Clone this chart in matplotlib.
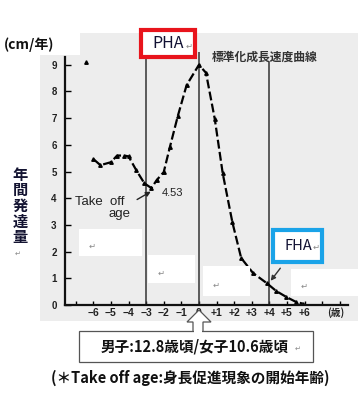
import matplotlib
matplotlib.use("Agg")
import matplotlib.pyplot as plt
from matplotlib.patches import Rectangle, Polygon, FancyArrowPatch

plt.rcParams['font.family'] = ['Noto Sans CJK JP', 'DejaVu Sans']

W, H = 361, 394

# growth velocity curve (years from PHA, cm/year)
ages = [-6.0, -5.6, -5.0, -4.65, -4.26, -4.0, -3.56, -3.1, -2.7, -2.4, -2.0, -1.65,
        -1.2, -0.7, 0.0, 0.4, 0.9, 1.35, 1.9, 2.4, 3.07, 3.85, 4.4, 4.97, 5.5, 5.9]
velocity = [5.47, 5.24, 5.35, 5.6, 5.6, 5.57, 5.05, 4.56, 4.38, 4.68, 4.98, 5.92,
            7.08, 8.24, 9.0, 8.7, 6.97, 4.94, 3.1, 1.76, 1.2, 0.82, 0.52, 0.3, 0.12, 0.05]
stray_x = [-6.4]
stray_y = [9.1]

# vertical reference lines: take off, PHA, FHA
ref_x = [-3, 0, 4]
ref_top = [9.25, 9.48, 9.1]

xticks = list(range(-7, 9))
xlabels = ['−6', '−5', '−4', '−3', '−2', '−1', '0', '+1', '+2', '+3', '+4', '+5', '+6']
yticks = list(range(0, 10))


def fx(px):
    return px / W


def fy(py):
    return 1 - py / H


fig = plt.figure(figsize=(W / 100, H / 100), dpi=100)
fig.patch.set_facecolor('white')

# scanned gray background
fig.patches.append(Rectangle((fx(40), fy(321)), fx(358) - fx(40), fy(33) - fy(321),
                             transform=fig.transFigure, facecolor='#ededed',
                             edgecolor='none', zorder=-2))
fig.patches.append(Rectangle((0, fy(55)), fx(80), fy(33) - fy(55),
                             transform=fig.transFigure, facecolor='white',
                             edgecolor='none', zorder=-1))

ax = fig.add_axes([fx(65), fy(305), fx(348) - fx(65), fy(52) - fy(305)])
ax.patch.set_alpha(0)
ax.set_xlim(-7.61, 8.47)
ax.set_ylim(0, 9.48)
for s in ['top', 'right']:
    ax.spines[s].set_visible(False)
ax.spines['left'].set_bounds(0, 9.3)
ax.spines['left'].set_linewidth(1.6)
ax.spines['bottom'].set_linewidth(1.6)
ax.spines['left'].set_color('#111111')
ax.spines['bottom'].set_color('#111111')

ax.set_yticks(yticks)
ax.set_yticklabels([str(v) for v in yticks], fontsize=7, fontweight='bold',
                   family=['Liberation Sans'], color='#222222')
ax.tick_params(axis='y', direction='in', length=4, width=1, pad=6)
ax.set_xticks(xticks)
ax.set_xticklabels([''] + xlabels + ['', ''], fontsize=7.5, fontweight='bold',
                   family=['Liberation Sans'], color='#222222')
ax.tick_params(axis='x', direction='in', length=3, width=1, pad=2)

for x0, top in zip(ref_x, ref_top):
    ax.plot([x0, x0], [0, top], color='#333333', lw=1.1)

ax.plot(ages, velocity, color='black', lw=1.6, ls=(0, (4, 1.5)),
        marker='^', ms=2.5, mfc='black', mec='black')
ax.plot(stray_x, stray_y, ls='none', marker='^', ms=2.5, color='black')

ax.text(0.75, 9.3, '標準化成長速度曲線', fontsize=8.5, fontweight='bold',
        color='#333333', va='center', ha='left')

ax.text(-7.05, 3.85, 'Take  off', fontsize=9.5, family=['Liberation Sans'],
        color='#222222', va='center', ha='left')
ax.text(-4.5, 3.4, 'age', fontsize=9.5, family=['Liberation Sans'],
        color='#222222', va='center', ha='center')
ax.annotate('', xy=(-2.6, 4.3), xytext=(-3.65, 3.9),
            arrowprops=dict(arrowstyle='-|>', color='#222222', lw=1,
                            mutation_scale=7))
ax.text(-2.1, 4.2, '4.53', fontsize=8, family=['Liberation Sans'],
        color='#222222', va='center', ha='left')
ax.text(7.3, -0.3, '(歳)', fontsize=7, fontweight='bold', color='#222222',
        va='center', ha='left')

# white patches left on the scan
for x0, y0, x1, y1 in [(79, 229, 142, 256), (148, 255, 195, 283),
                       (203, 266, 250, 296), (291, 269, 358, 296)]:
    fig.patches.append(Rectangle((fx(x0), fy(y1)), fx(x1) - fx(x0), fy(y0) - fy(y1),
                                 transform=fig.transFigure, facecolor='white',
                                 edgecolor='none', zorder=1))
    fig.text(fx(x0 + 10), fy((y0 + y1) / 2 + 4), '↵', fontsize=6,
             color='#888888', ha='left', va='center', zorder=2,
             family=['DejaVu Sans'])

# PHA box
fig.patches.append(Rectangle((fx(141), fy(57)), fx(195) - fx(141), fy(30) - fy(57),
                             transform=fig.transFigure, facecolor='white',
                             edgecolor='#e8141c', lw=3, zorder=3))
fig.text(fx(168), fy(44), 'PHA', fontsize=11.5, color='#111133', ha='center',
         va='center', zorder=4)
fig.text(fx(189), fy(46), '↵', fontsize=6, color='#888888', ha='center',
         va='center', zorder=4, family=['DejaVu Sans'])

# FHA box
fig.patches.append(Rectangle((fx(273), fy(262)), fx(322) - fx(273), fy(230) - fy(262),
                             transform=fig.transFigure, facecolor='white',
                             edgecolor='#1aa3e8', lw=3, zorder=3))
fig.text(fx(298), fy(246), 'FHA', fontsize=10.5, color='#111133', ha='center',
         va='center', zorder=4)
fig.text(fx(316), fy(247), '↵', fontsize=6, color='#888888', ha='center',
         va='center', zorder=4, family=['DejaVu Sans'])
fig.patches.append(FancyArrowPatch((fx(282), fy(266)), (fx(269), fy(283)),
                                   transform=fig.transFigure, arrowstyle='-|>',
                                   mutation_scale=7, color='#333333', lw=1,
                                   zorder=4))

# axis captions
fig.text(fx(4), fy(45), '(cm/年)', fontsize=10, fontweight='bold', color='#111111',
         ha='left', va='center')
fig.text(fx(20), fy(206), '年\n間\n発\n達\n量', fontsize=11, fontweight='bold',
         color='#141432', ha='center', va='center', linespacing=0.98)
fig.text(fx(18), fy(254), '↵', fontsize=5, color='#888888', ha='center',
         va='center', family=['DejaVu Sans'])

# callout arrow and box
fig.patches.append(Polygon([(fx(199), fy(310)), (fx(211), fy(322)), (fx(203), fy(322)),
                            (fx(203), fy(332)), (fx(193), fy(332)), (fx(193), fy(322)),
                            (fx(187), fy(322))],
                           closed=True, transform=fig.transFigure, facecolor='white',
                           edgecolor='#555555', lw=0.9, zorder=5))
fig.patches.append(Rectangle((fx(79), fy(362)), fx(313) - fx(79), fy(331) - fy(362),
                             transform=fig.transFigure, facecolor='white',
                             edgecolor='#555555', lw=0.9, zorder=5))
fig.patches.append(Rectangle((fx(193.6), fy(332.5)), fx(202.4) - fx(193.6), fy(329) - fy(332.5),
                             transform=fig.transFigure, facecolor='white',
                             edgecolor='none', zorder=6))
fig.text(fx(195), fy(347), '男子:12.8歳頃/女子10.6歳頃', fontsize=10.5, fontweight='bold',
         color='#111111', ha='center', va='center', zorder=7)
fig.text(fx(298), fy(349), '↵', fontsize=5, color='#888888', ha='center',
         va='center', zorder=7, family=['DejaVu Sans'])
fig.text(fx(190), fy(378), '(＊Take off age:身長促進現象の開始年齢)', fontsize=10.5,
         fontweight='bold', color='#111111', ha='center', va='center')

fig.savefig('out.png', dpi=100)
